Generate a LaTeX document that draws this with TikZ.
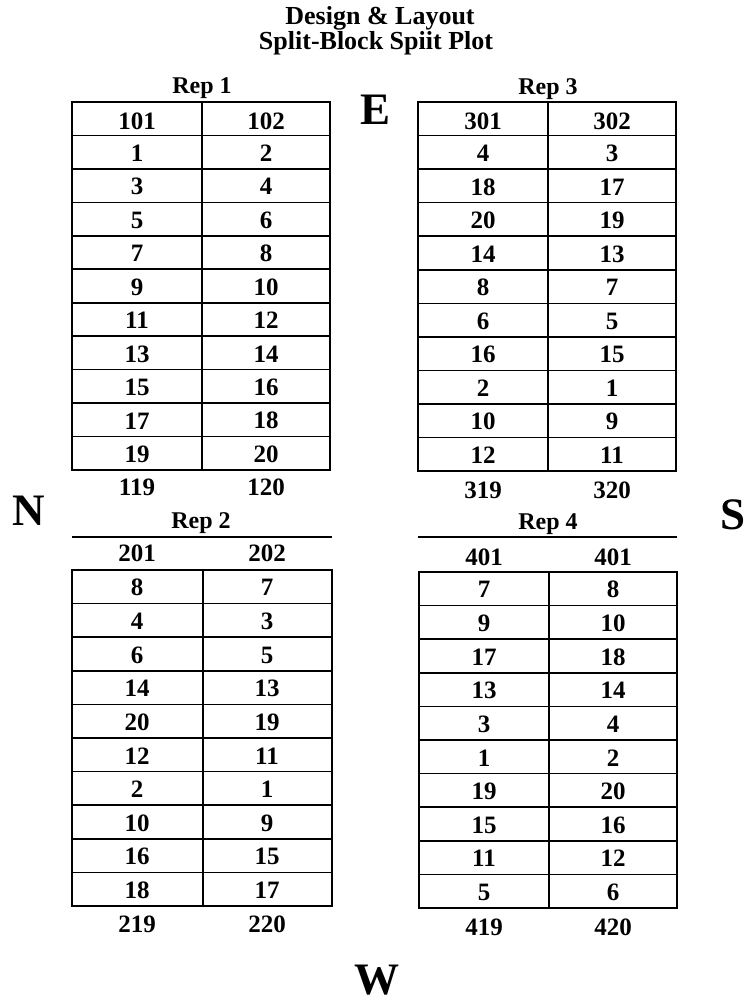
\documentclass[tikz,border=0pt]{standalone}
\usepackage{fontspec}
\setmainfont{Liberation Serif}

\begin{document}
\begin{tikzpicture}[x=1pt, y=-1pt, line width=1.6pt,
  num/.style={anchor=center, inner sep=0pt, font=\fontsize{25}{30}\selectfont\bfseries},
  replabel/.style={anchor=base, inner sep=0pt, font=\fontsize{24}{28}\selectfont\bfseries},
  titletext/.style={anchor=base, inner sep=0pt, font=\fontsize{26}{30}\selectfont\bfseries},
  compass/.style={anchor=center, inner sep=0pt, font=\fontsize{45}{54}\selectfont\bfseries}]

  %% ════ titles ════
  \node[titletext] (title1) at (380,25) {Design \& Layout};
  \node[titletext] (title2) at (376,50) {Split-Block Spiit Plot};

  %% ════ compass ════
  \node[compass] (east)  at (376,110) {E};
  \node[compass] (north) at (29,511)  {N};
  \node[compass] (south) at (733,515) {S};
  \node[compass] (west)  at (377,980) {W};

  %% ════ Rep 1 (top left) ════
  \node[replabel] (rep1) at (202,94) {Rep 1};
  \draw (72,102) rectangle (330,470);
  \draw (202,102) -- (202,470);
  \foreach \k in {1,...,10}
    \draw (72,{102+\k*33.45}) -- (330,{102+\k*33.45});
  \node[num] (r1h1) at (137,121) {101};
  \node[num] (r1h2) at (266,121) {102};
  \foreach \i/\a/\b in {1/1/2, 2/3/4, 3/5/6, 4/7/8, 5/9/10, 6/11/12, 7/13/14, 8/15/16, 9/17/18, 10/19/20} {
    \node[num] (r1a\i) at (137,{103+(\i+0.5)*33.45}) {\a};
    \node[num] (r1b\i) at (266,{103+(\i+0.5)*33.45}) {\b};
  }
  \node[num] (r1f1) at (137,487) {119};
  \node[num] (r1f2) at (266,487) {120};

  %% ════ Rep 3 (top right) ════
  \node[replabel] (rep3) at (548,95) {Rep 3};
  \draw (418,102) rectangle (676,471);
  \draw (548,102) -- (548,471);
  \foreach \k in {1,...,10}
    \draw (418,{102+\k*33.55}) -- (676,{102+\k*33.55});
  \node[num] (r3h1) at (483,121) {301};
  \node[num] (r3h2) at (612,121) {302};
  \foreach \i/\a/\b in {1/4/3, 2/18/17, 3/20/19, 4/14/13, 5/8/7, 6/6/5, 7/16/15, 8/2/1, 9/10/9, 10/12/11} {
    \node[num] (r3a\i) at (483,{103+(\i+0.5)*33.55}) {\a};
    \node[num] (r3b\i) at (612,{103+(\i+0.5)*33.55}) {\b};
  }
  \node[num] (r3f1) at (483,490) {319};
  \node[num] (r3f2) at (612,490) {320};

  %% ════ Rep 2 (bottom left) ════
  \node[replabel] (rep2) at (201,528) {Rep 2};
  \draw (72,537) -- (332,537);
  \node[num] (r2h1) at (137,553) {201};
  \node[num] (r2h2) at (267,553) {202};
  \draw (72,570) rectangle (332,906);
  \draw (203,570) -- (203,906);
  \foreach \k in {1,...,9}
    \draw (72,{570+\k*33.6}) -- (332,{570+\k*33.6});
  \foreach \i/\a/\b in {1/8/7, 2/4/3, 3/6/5, 4/14/13, 5/20/19, 6/12/11, 7/2/1, 8/10/9, 9/16/15, 10/18/17} {
    \node[num] (r2a\i) at (137,{571+(\i-0.5)*33.6}) {\a};
    \node[num] (r2b\i) at (267,{571+(\i-0.5)*33.6}) {\b};
  }
  \node[num] (r2f1) at (137,924) {219};
  \node[num] (r2f2) at (267,924) {220};

  %% ════ Rep 4 (bottom right) ════
  \node[replabel] (rep4) at (548,529) {Rep 4};
  \draw (418,537) -- (677,537);
  \node[num] (r4h1) at (484,557) {401};
  \node[num] (r4h2) at (613,557) {401};
  \draw (419,572) rectangle (677,908);
  \draw (549,572) -- (549,908);
  \foreach \k in {1,...,9}
    \draw (419,{572+\k*33.6}) -- (677,{572+\k*33.6});
  \foreach \i/\a/\b in {1/7/8, 2/9/10, 3/17/18, 4/13/14, 5/3/4, 6/1/2, 7/19/20, 8/15/16, 9/11/12, 10/5/6} {
    \node[num] (r4a\i) at (484,{573+(\i-0.5)*33.6}) {\a};
    \node[num] (r4b\i) at (613,{573+(\i-0.5)*33.6}) {\b};
  }
  \node[num] (r4f1) at (484,927) {419};
  \node[num] (r4f2) at (613,927) {420};

  % fix the canvas to the reference size
  \pgfresetboundingbox
  \path[use as bounding box] (0,0) rectangle (748,1003);
\end{tikzpicture}
\end{document}
